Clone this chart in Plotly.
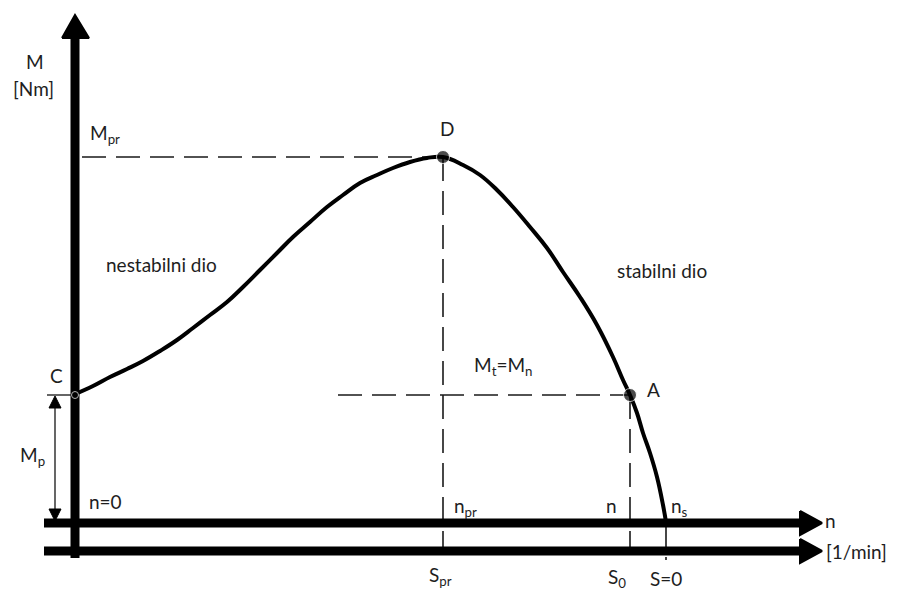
import plotly.graph_objects as go

# koordinate diagrama (pikselni sistem okna, y narasca navzdol)
krivulja_x = [73, 93, 110, 127, 143, 160, 177, 193, 210, 227, 243, 260, 277, 293, 310, 327,
              343, 360, 377, 393, 410, 427, 443,
              463, 480, 497, 513, 530, 547, 563, 580, 597, 613, 623, 630, 637, 643, 650,
              657, 663, 666]
krivulja_y = [395, 386, 377, 369, 361, 351, 340, 328, 315, 302, 287, 270, 253, 237, 222, 207,
              195, 183, 175, 168, 162, 158, 157,
              165, 175, 190, 207, 227, 248, 272, 297, 325, 357, 380, 395, 413, 433, 453,
              477, 505, 522]

tocke_x = [443, 630, 75]
tocke_y = [157, 395, 395]

D = (443, 157)
A = (630, 395)
ns_x = 666
os_n_y, os_min_y = 523, 551

# (besedilo, x, y, sidro)
oznake = [
    ("M", 35, 61, "center"), ("[Nm]", 33, 88, "center"),
    ("M<sub>pr</sub>", 88, 134, "left"), ("D", 447, 128, "center"),
    ("nestabilni dio", 161, 264, "center"), ("stabilni dio", 662, 270, "center"),
    ("M<sub>t</sub>=M<sub>n</sub>", 472, 366, "left"),
    ("A", 653, 389, "center"), ("C", 56, 375, "center"), ("M<sub>p</sub>", 18, 456, "left"),
    ("n=0", 87, 501, "left"), ("n<sub>pr</sub>", 452, 507, "left"),
    ("n", 611, 505, "center"), ("n<sub>s</sub>", 669, 507, "left"),
    ("n", 823, 520, "left"), ("[1/min]", 824, 551, "left"),
    ("S<sub>pr</sub>", 427, 576, "left"), ("S<sub>0</sub>", 606, 578, "left"),
    ("S=0", 666, 578, "center"),
]

fig = go.Figure()

crna = "#000000"
crta = dict(color="#1a1a1a", width=1.6, dash="24px,10px")

# crtkane pomozne crte
fig.add_trace(go.Scatter(x=[82, D[0]], y=[D[1], D[1]], mode="lines", line=crta))
fig.add_trace(go.Scatter(x=[D[0], D[0]], y=[D[1], 560], mode="lines", line=crta))
fig.add_trace(go.Scatter(x=[338, A[0]], y=[A[1], A[1]], mode="lines", line=crta))
fig.add_trace(go.Scatter(x=[A[0], A[0]], y=[A[1], 560], mode="lines", line=crta))
fig.add_trace(go.Scatter(x=[ns_x, ns_x], y=[523, 560], mode="lines", line=crta))

# osi
for yy in (os_n_y, os_min_y):
    fig.add_trace(go.Scatter(x=[44, 805], y=[yy, yy], mode="lines",
                             line=dict(color=crna, width=9)))
    fig.add_trace(go.Scatter(x=[800, 822, 800, 800], y=[yy - 12, yy, yy + 12, yy - 12],
                             mode="lines", fill="toself", fillcolor=crna,
                             line=dict(color=crna, width=2)))
fig.add_trace(go.Scatter(x=[75, 75], y=[558, 36], mode="lines",
                         line=dict(color=crna, width=9)))
fig.add_trace(go.Scatter(x=[62, 75, 89, 62], y=[38, 15, 38, 38], mode="lines",
                         fill="toself", fillcolor=crna, line=dict(color=crna, width=2)))

# kotirna crta Mp
fig.add_trace(go.Scatter(x=[47, 75], y=[395, 395], mode="lines", line=dict(color=crna, width=1.2)))
fig.add_trace(go.Scatter(x=[55, 55], y=[405, 512], mode="lines", line=dict(color=crna, width=1.2)))
fig.add_trace(go.Scatter(x=[49, 55, 61, 49], y=[408, 396, 408, 408], mode="lines", fill="toself",
                         fillcolor=crna, line=dict(color=crna, width=1)))
fig.add_trace(go.Scatter(x=[49, 55, 61, 49], y=[509, 521, 509, 509], mode="lines", fill="toself",
                         fillcolor=crna, line=dict(color=crna, width=1)))

# karakteristika
fig.add_trace(go.Scatter(x=krivulja_x, y=krivulja_y, mode="lines",
                         line=dict(color=crna, width=4, shape="spline", smoothing=1.2)))
fig.add_trace(go.Scatter(x=tocke_x, y=tocke_y, mode="markers",
                         marker=dict(color=crna, size=[13, 13, 7])))

for txt, x, y, sidro in oznake:
    fig.add_annotation(x=x, y=y, text=txt, showarrow=False, xanchor=sidro, yanchor="middle",
                       font=dict(family="Lato, sans-serif", size=19, color="#1e1e1e"))

fig.update_layout(
    width=900, height=590, showlegend=False,
    paper_bgcolor="white", plot_bgcolor="white",
    margin=dict(l=0, r=0, t=0, b=0),
    xaxis=dict(range=[0, 900], visible=False, fixedrange=True),
    yaxis=dict(range=[590, 0], visible=False, fixedrange=True),
)

# odstrani privzeti rob strani, da slika zapolni celo okno
fig.write_html("out.html", config={"displayModeBar": False},
               post_script="document.body.style.margin='0';")
